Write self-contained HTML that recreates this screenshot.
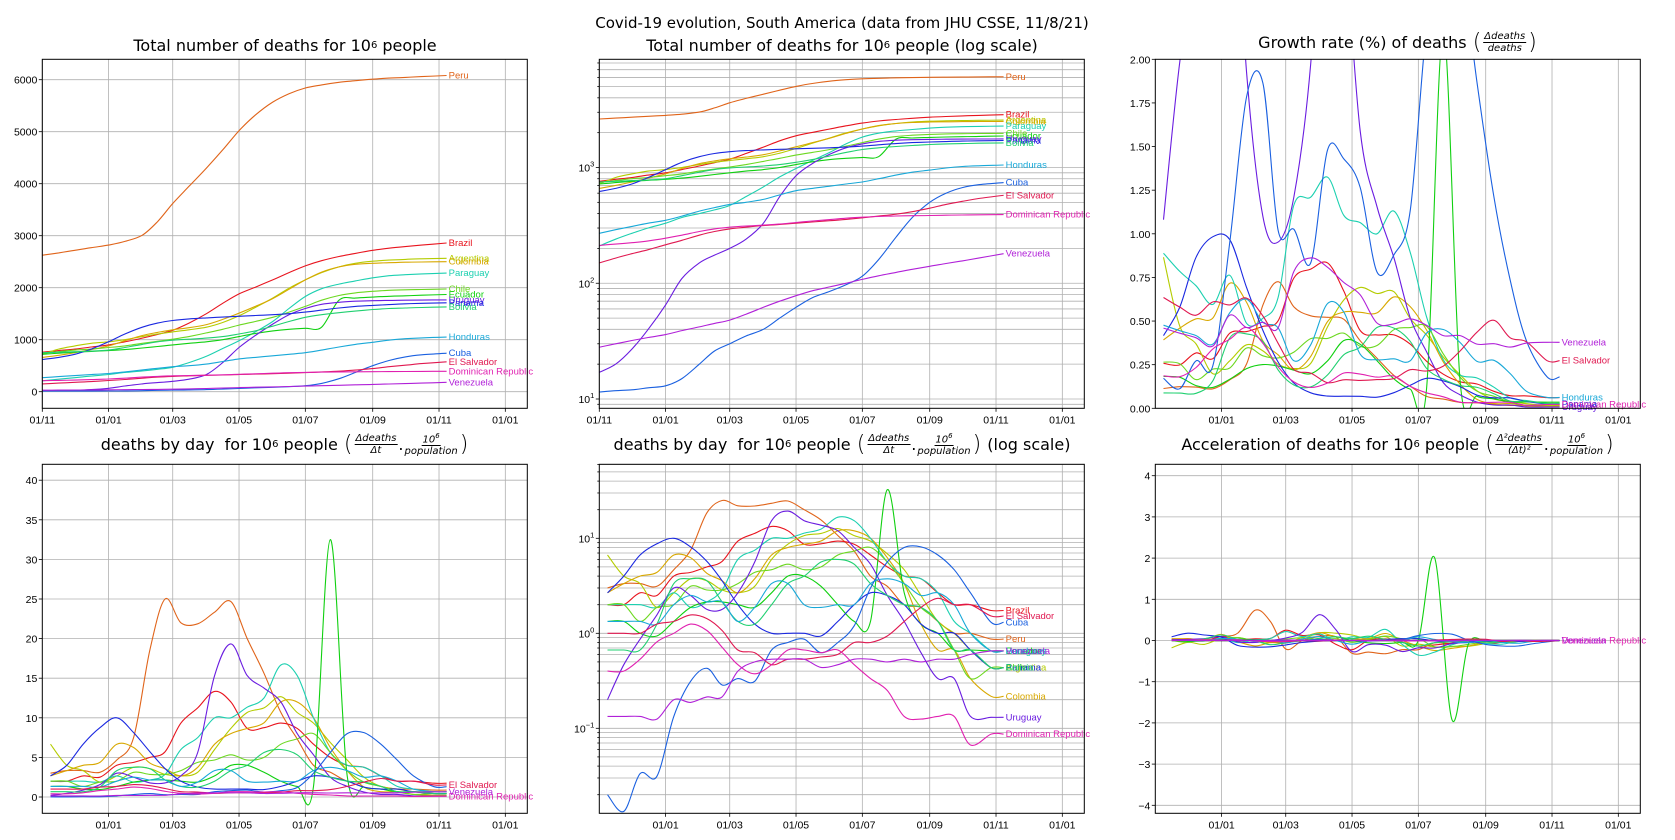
<!DOCTYPE html>
<html><head><meta charset="utf-8">
<style>
body{margin:0;background:#fff;width:1675px;height:840px;overflow:hidden;font-family:"Liberation Sans","DejaVu Sans",sans-serif}
#wrap{position:relative;width:1675px;height:840px}
svg{position:absolute;left:0;top:0}
.ttl{position:absolute;transform:translateX(-50%);white-space:nowrap;font-size:16px;color:#000;font-family:"DejaVu Sans","Liberation Sans",sans-serif;display:flex;align-items:center}
.fr{display:inline-flex;flex-direction:column;align-items:center;font-size:10px;font-style:italic;margin:0 1px;line-height:11px}
.fr span:first-child{border-bottom:1px solid #000;padding:0 1px}
.par{font-size:22px;font-weight:200;margin:0 1px}
sup{font-size:10px}
</style></head><body><div id="wrap">
<div class="ttl" style="left:842px;top:14px;font-size:15px">Covid-19 evolution, South America (data from JHU CSSE, 11/8/21)</div>
<div class="ttl" style="left:285px;top:36px">Total number of deaths for 10<sup>6</sup>&nbsp;people</div>
<div class="ttl" style="left:842px;top:36px">Total number of deaths for 10<sup>6</sup>&nbsp;people (log scale)</div>
<div class="ttl" style="left:1398px;top:30px">Growth rate (%) of deaths&nbsp;<span class="par">(</span><span class="fr"><span>Δdeaths</span><span>deaths</span></span><span class="par">)</span></div>
<div class="ttl" style="left:285px;top:431px">deaths by day&nbsp; for 10<sup>6</sup>&nbsp;people&nbsp;<span class="par">(</span><span class="fr"><span>Δdeaths</span><span>Δt</span></span>.<span class="fr"><span>10<sup style="font-size:7px">6</sup></span><span>population</span></span><span class="par">)</span></div>
<div class="ttl" style="left:842px;top:431px">deaths by day&nbsp; for 10<sup>6</sup>&nbsp;people&nbsp;<span class="par">(</span><span class="fr"><span>Δdeaths</span><span>Δt</span></span>.<span class="fr"><span>10<sup style="font-size:7px">6</sup></span><span>population</span></span><span class="par">)</span>&nbsp;(log scale)</div>
<div class="ttl" style="left:1398px;top:431px">Acceleration of deaths for 10<sup>6</sup>&nbsp;people&nbsp;<span class="par">(</span><span class="fr"><span>Δ²deaths</span><span>(Δt)²</span></span>.<span class="fr"><span>10<sup style="font-size:7px">6</sup></span><span>population</span></span><span class="par">)</span></div>
<svg id="svg" width="1675" height="840" xmlns="http://www.w3.org/2000/svg"></svg>
</div>
<script>
// knot days since 2020-11-01
const days=[0,15,30,45,61,76,92,106,120,135,151,166,181,196,212,227,242,257,273,288,304,319,334,349,372];
const countries=["Peru","Brazil","Argentina","Colombia","Paraguay","Chile","Ecuador","Uruguay","Panama","Bolivia","Honduras","Cuba","El Salvador","Dominican Republic","Venezuela"];
const peru=[2625,2670,2720,2770,2820,2890,3010,3270,3620,3950,4300,4650,5020,5320,5570,5730,5840,5900,5950,5980,6010,6030,6045,6060,6080];
const brazil=[760,790,820,860,900,960,1030,1100,1180,1320,1500,1700,1880,2010,2150,2290,2420,2520,2600,2660,2720,2760,2790,2820,2860];
const argentina=[720,820,880,930,960,1000,1060,1110,1150,1190,1240,1330,1460,1620,1800,1990,2150,2290,2400,2470,2510,2530,2545,2555,2565];
const colombia=[660,700,750,810,880,980,1080,1140,1190,1230,1290,1390,1510,1640,1790,1970,2150,2300,2400,2450,2470,2480,2490,2495,2500];
const paraguay=[210,240,270,300,330,370,400,430,470,560,680,830,980,1150,1350,1600,1830,1980,2070,2130,2190,2230,2250,2265,2280];
const chile=[740,770,800,820,850,880,930,970,1010,1060,1130,1200,1280,1350,1430,1530,1640,1760,1850,1900,1930,1950,1960,1965,1975];
const ecuador=[720,740,760,775,790,810,840,870,900,930,960,1000,1060,1120,1170,1200,1220,1240,1760,1800,1820,1835,1845,1855,1870];
const uruguay=[17,20,27,40,65,110,150,175,200,240,330,560,850,1080,1300,1480,1600,1680,1720,1740,1750,1755,1760,1762,1765];
const panama=[620,660,720,820,960,1110,1240,1320,1370,1400,1420,1435,1450,1465,1480,1500,1530,1570,1610,1640,1660,1675,1690,1700,1710];
const bolivia=[750,760,770,780,800,850,910,960,990,1010,1030,1060,1110,1170,1260,1350,1430,1480,1520,1550,1580,1600,1610,1620,1630];
const honduras=[270,290,310,330,350,380,420,450,480,500,530,580,630,660,690,720,750,800,860,910,950,990,1020,1035,1050];
const cuba=[11.5,11.8,12,12.5,13,15,20,26,30,35,40,50,62,75,85,97,115,160,250,370,500,600,670,710,740];
const elSalvador=[150,165,180,195,215,235,260,280,295,305,315,322,330,338,347,356,368,380,395,415,445,480,510,540,575];
const dominican=[212,218,224,232,245,260,280,295,305,312,318,325,335,345,355,365,372,377,381,383,385,387,389,390,392];
const venezuela=[28,30,32,34,36,39,42,45,48,54,62,70,78,86,93,100,108,116,124,132,140,148,156,165,180];
const totals=[peru,brazil,argentina,colombia,paraguay,chile,ecuador,uruguay,panama,bolivia,honduras,cuba,elSalvador,dominican,venezuela];
const xTickLabels=["01/11","01/01","01/03","01/05","01/07","01/09","01/11","01/01"];
const xTickDays=[0,61,120,181,242,304,365,426];
const linTicks1=[0,1000,2000,3000,4000,5000,6000];
const growthTicks=[0,0.25,0.5,0.75,1,1.25,1.5,1.75,2];
const dailyTicks=[0,5,10,15,20,25,30,35,40];
const accTicks=[-4,-3,-2,-1,0,1,2,3,4];

const colors=["#e0641a","#e8141e","#b4cc00","#d8a800","#1cd0b0","#6cd820","#10d010","#6a1ce0","#1a28e0","#20d070","#18a8d8","#1a60e0","#e01850","#e020b0","#b020d8"];
const NS="http://www.w3.org/2000/svg";
const svg=document.getElementById('svg');
function el(tag,attrs,parent){const e=document.createElementNS(NS,tag);for(const k in attrs)e.setAttribute(k,attrs[k]);(parent||svg).appendChild(e);return e;}
const PXD=1.0869, W=485, END=372;

// derived series (finite differences of totals)
const midDays=[],daily=[],growth=[],accDays=[],accel=[];
for(let i=0;i<days.length-1;i++)midDays.push((days[i]+days[i+1])/2);
midDays.push(END);
for(let i=1;i<days.length-1;i++)accDays.push(days[i]);
accDays.push(END);
totals.forEach((T,c)=>{
  const d=[],g=[],a=[];
  for(let i=0;i<T.length-1;i++){const v=(T[i+1]-T[i])/(days[i+1]-days[i]);d.push(v);g.push(v/((T[i]+T[i+1])/2)*100);}
  for(let i=1;i<d.length;i++)a.push((d[i]-d[i-1])/(midDays[i]-midDays[i-1]));
  d.push(d[d.length-1]);g.push(g[g.length-1]);a.push(0);
  daily.push(d);growth.push(g);accel.push(a);
});

function smoothPath(p){
  let s='M'+p[0][0].toFixed(1)+','+p[0][1].toFixed(1);
  for(let i=0;i<p.length-1;i++){
    const p0=p[i-1]||p[i],p1=p[i],p2=p[i+1],p3=p[i+2]||p[i+1];
    const c1=[p1[0]+(p2[0]-p0[0])/6,p1[1]+(p2[1]-p0[1])/6];
    const c2=[p2[0]-(p3[0]-p1[0])/6,p2[1]-(p3[1]-p1[1])/6];
    s+='C'+c1.map(v=>v.toFixed(1))+' '+c2.map(v=>v.toFixed(1))+' '+p2.map(v=>v.toFixed(1));
  }
  return s;
}

let clipN=0;
function panel(cfg){
  const L=cfg.left,T=cfg.top,B=cfg.bottom,H=B-T;
  const g=el('g',{});
  
  
  const x=d=>L+d*PXD;
  const y=cfg.y;
  xTickDays.forEach((d,i)=>{
    if(i===0&&!cfg.firstX)return;
    const xx=x(d);
    const gl=el('line',{x1:xx,x2:xx,y1:T,y2:B,stroke:'#b0b0b0','stroke-width':0.8},g);
    
    
    el('line',{x1:xx,x2:xx,y1:B,y2:B+3.5,stroke:'#000','stroke-width':0.8},g);
    const t=el('text',{x:xx,y:B+15,'text-anchor':'middle','font-size':10.5,fill:'#000'},g);
    t.textContent=xTickLabels[i];
    
    
  });
  if(cfg.log){
    for(let e=Math.floor(cfg.lmin);e<=Math.ceil(cfg.lmax);e++){
      for(let m=1;m<10;m++){
        const v=m*Math.pow(10,e),yy=y(v);
        if(yy<T-0.1||yy>B+0.1)continue;
        el('line',{x1:L,x2:L+W,y1:yy,y2:yy,stroke:'#b0b0b0','stroke-width':0.8},g);
        el('line',{x1:L-(m===1?3.5:2),x2:L,y1:yy,y2:yy,stroke:'#000','stroke-width':0.8},g);
        if(m===1){
          const t=el('text',{x:L-5,y:yy+4,'text-anchor':'end','font-size':10.5},g);
          
          
          t.appendChild(document.createTextNode('10'));
          const s=el('tspan',{dy:-5,'font-size':7.5},t);s.textContent=(e<0?'\u2212':'')+Math.abs(e);
        }
      }
    }
  } else {
    cfg.ticks.forEach(v=>{
      const yy=y(v);
      if(cfg.hgrid)el('line',{x1:L,x2:L+W,y1:yy,y2:yy,stroke:'#b0b0b0','stroke-width':0.8},g);
      el('line',{x1:L-3.5,x2:L,y1:yy,y2:yy,stroke:'#000','stroke-width':0.8},g);
      const t=el('text',{x:L-5,y:yy+4,'text-anchor':'end','font-size':10.5},g);
      t.textContent=cfg.fmt(v);
      
      
    });
  }
  const id='clip'+(clipN++);
  const cp=el('clipPath',{id},g);el('rect',{x:L,y:T,width:W,height:H},cp);
  const sg=el('g',{'clip-path':'url(#'+id+')'},g);
  if(cfg.zeroLine)el('line',{x1:x(cfg.xs[0]),x2:x(END),y1:y(0),y2:y(0),stroke:'#000','stroke-width':1.5},sg);
  cfg.series.forEach((vals,c)=>{
    const pts=vals.map((v,i)=>[x(cfg.xs[i]),y(v)]);
    const p=el('path',{d:smoothPath(pts),fill:'none',stroke:colors[c],'stroke-width':cfg.sw||1.1},sg);
    
    
  });
  cfg.series.forEach((vals,c)=>{
    if(cfg.labels&&!cfg.labels.includes(countries[c]))return;
    let yy=y(vals[vals.length-1]);
    if(yy<T||yy>B)return;
    const t=el('text',{x:x(cfg.xs[vals.length-1])+2,y:yy+3,'font-size':9.5,fill:colors[c]},g);
    t.textContent=countries[c];
    
    
  });
  const fr=el('rect',{x:L,y:T,width:W,height:H,fill:'none',stroke:'#000','stroke-width':1},g);
  
  
}
const clampLog=v=>Math.max(v,1e-3);
panel({name:'panel-total-deaths',left:42.3,top:59.3,bottom:408.3,firstX:true,hgrid:true,ticks:linTicks1,fmt:v=>String(v),
  y:v=>391.7-v*0.052,xs:days,series:totals});
panel({name:'panel-total-deaths-log',left:599.3,top:59.3,bottom:408.3,firstX:true,log:true,lmin:0.9,lmax:3.94,
  y:v=>399-(Math.log10(clampLog(v))-1)*115.75,xs:days,series:totals});
panel({name:'panel-growth-rate',left:1155.3,top:59.3,bottom:408.3,hgrid:false,ticks:growthTicks,fmt:v=>v.toFixed(2),
  y:v=>408.3-v*174.5,xs:midDays,series:growth,
  labels:["Venezuela","El Salvador","Honduras","Dominican Republic","Panama","Uruguay"]});
panel({name:'panel-daily-deaths',left:42.3,top:464.3,bottom:813.3,hgrid:true,ticks:dailyTicks,fmt:v=>String(v),
  y:v=>797-v*7.92,xs:midDays,series:daily,labels:["El Salvador","Venezuela","Dominican Republic"]});
panel({name:'panel-daily-deaths-log',left:599.3,top:464.3,bottom:813.3,log:true,lmin:-1.9,lmax:1.78,
  y:v=>633.3-Math.log10(clampLog(v))*95,xs:midDays,series:daily});
panel({name:'panel-acceleration',left:1155.3,top:464.3,bottom:813.3,hgrid:true,ticks:accTicks,fmt:v=>v<0?'\u2212'+(-v):String(v),
  y:v=>640.5-v*41.2,xs:accDays,series:accel,zeroLine:true,labels:["Venezuela","Dominican Republic"]});
</script>
</body></html>
